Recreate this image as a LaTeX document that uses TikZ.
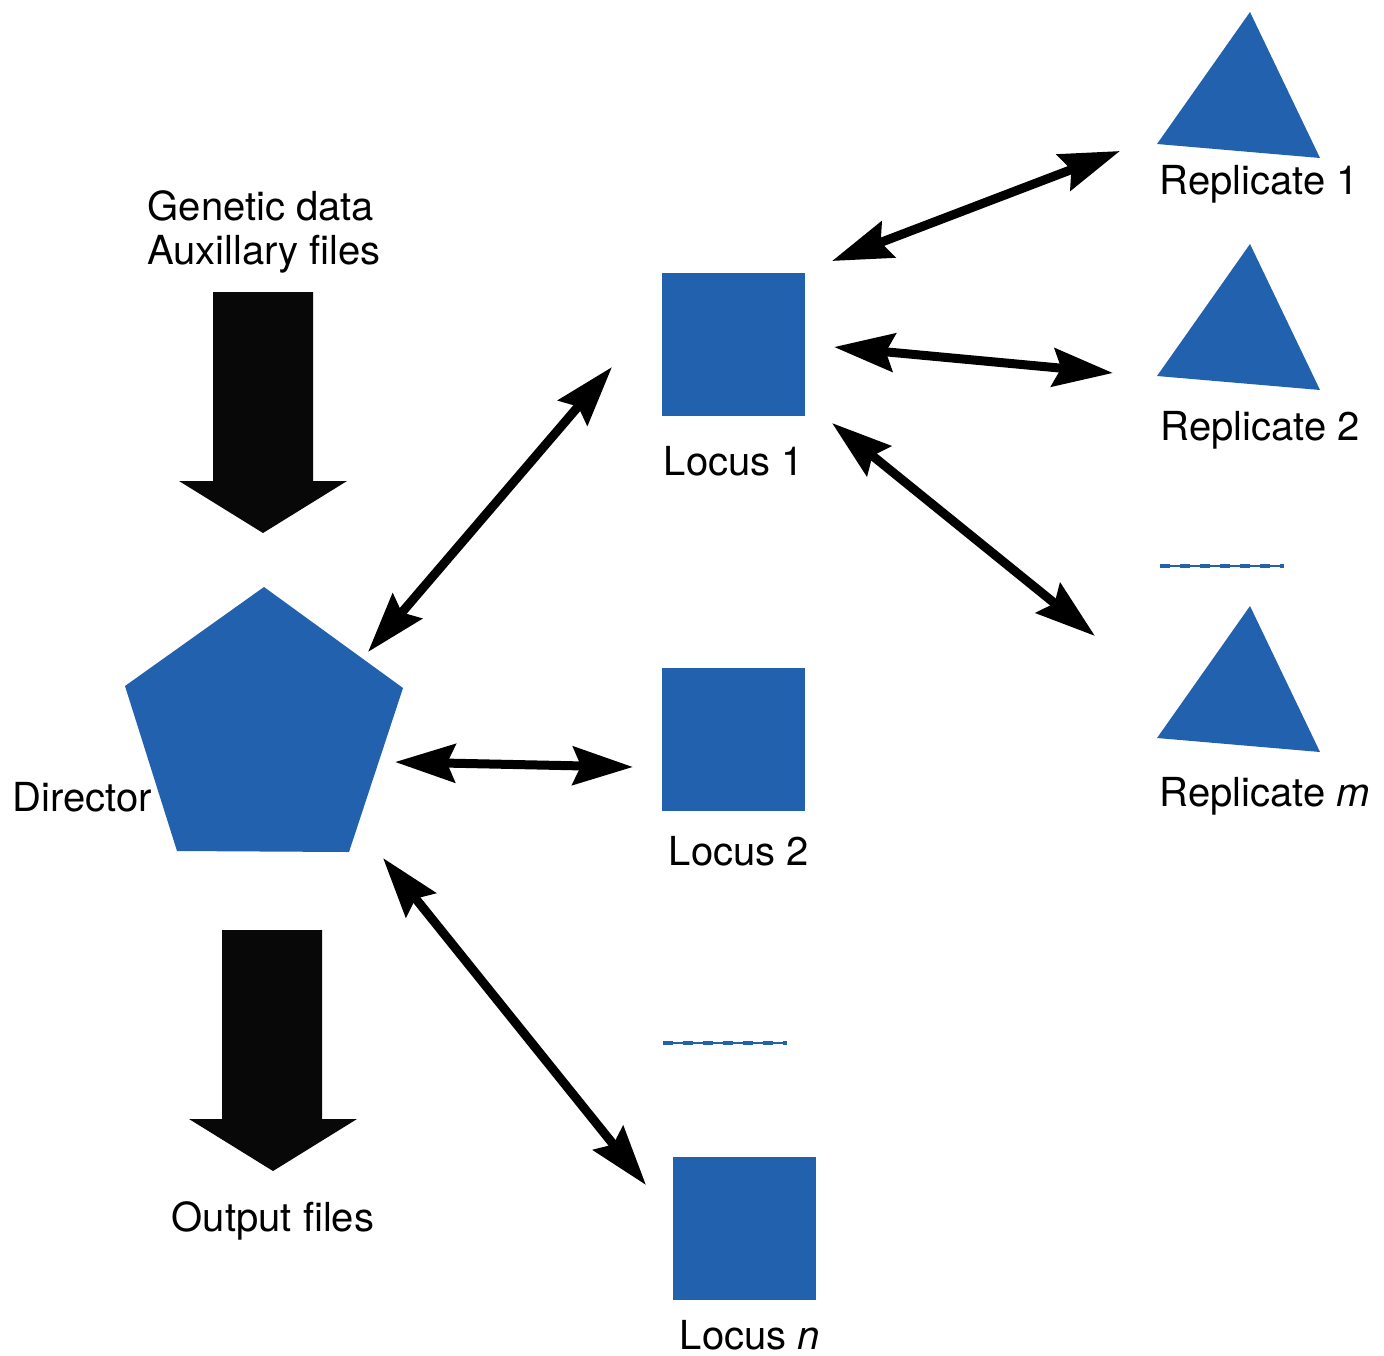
\documentclass[tikz,border=0pt]{standalone}
\usepackage{fontspec}
\setmainfont{TeX Gyre Heros}
\usetikzlibrary{arrows.meta}
\definecolor{nodeblue}{HTML}{2161AE}
\begin{document}
\begin{tikzpicture}[x=0.5pt,y=-0.5pt,
  sq/.style={fill=nodeblue,minimum size=71.5pt,inner sep=0pt,outer sep=0pt},
  lbl/.style={font=\fontsize{20}{24}\selectfont,inner sep=0pt,align=center},
  dbl/.style={line width=4.5pt,{Stealth[length=30pt,width=19pt,inset=4pt]}-{Stealth[length=30pt,width=19pt,inset=4pt]}},
  bigarrow/.style={fill=black!97},
  dots/.style={nodeblue}]
\useasboundingbox (0,0) rectangle (1384,1355);
% squares
\node[sq] (l1) at (733.5,344.5) {};
\node[sq] (l2) at (733.5,739.5) {};
\node[sq] (ln) at (744.5,1228) {};
% triangles
\fill[nodeblue] (1250,12) -- (1157,144) -- (1320,158) -- cycle;
\fill[nodeblue] (1250,244) -- (1157,376) -- (1320,390) -- cycle;
\fill[nodeblue] (1250,606) -- (1157,738) -- (1320,752) -- cycle;
% pentagon
\fill[nodeblue] (264,587) -- (403,688) -- (349,852) -- (177,851) -- (125,686) -- cycle;
% labels
\node[lbl] (r1t) at (1259,184) {Replicate 1};
\node[lbl] (r2t) at (1260,430) {Replicate 2};
\node[lbl] (rmt) at (1265,796) {Replicate \textit{m}};
\node[lbl] (l1t) at (734,461) {Locus 1};
\node[lbl] (l2t) at (739,851) {Locus 2};
\node[lbl] (lnt) at (750,1335) {Locus \textit{n}};
\node[lbl] (dt) at (82,797) {Director};
\node[lbl] (gt) at (261,206) {Genetic data};
\node[lbl] (at) at (264,254) {Auxillary files};
\node[lbl] (ot) at (273,1221) {Output files};
% big arrows
\fill[bigarrow] (213,292) -- (313,292) -- (313,481) -- (347,481) -- (263,533) -- (179,481) -- (213,481) -- cycle;
\fill[bigarrow] (222,930) -- (322,930) -- (322,1119) -- (357,1119) -- (273,1171) -- (189,1119) -- (222,1119) -- cycle;
% dashed separators
\coordinate (d1a) at (1160,566); \coordinate (d1b) at (1284,566);
\coordinate (d2a) at (663,1043); \coordinate (d2b) at (787,1043);
\foreach \a/\b in {d1a/d1b,d2a/d2b}{
  \draw[dots,line width=0.6pt] (\a) -- (\b);
  \draw[dots,line width=2.4pt,dash pattern=on 5pt off 5pt] (\a) -- (\b);
}
% double arrows
\coordinate (a1s) at (832,261); \coordinate (a1e) at (1120,151);
\coordinate (a2s) at (834,347); \coordinate (a2e) at (1113,373);
\coordinate (a3s) at (832,423); \coordinate (a3e) at (1095,636);
\coordinate (a4s) at (612,367); \coordinate (a4e) at (368,652);
\coordinate (a5s) at (395,762); \coordinate (a5e) at (633,767);
\coordinate (a6s) at (383,858); \coordinate (a6e) at (646,1185);
\foreach \i in {1,...,6}{\draw[dbl] (a\i s) -- (a\i e);}
\end{tikzpicture}
\end{document}
